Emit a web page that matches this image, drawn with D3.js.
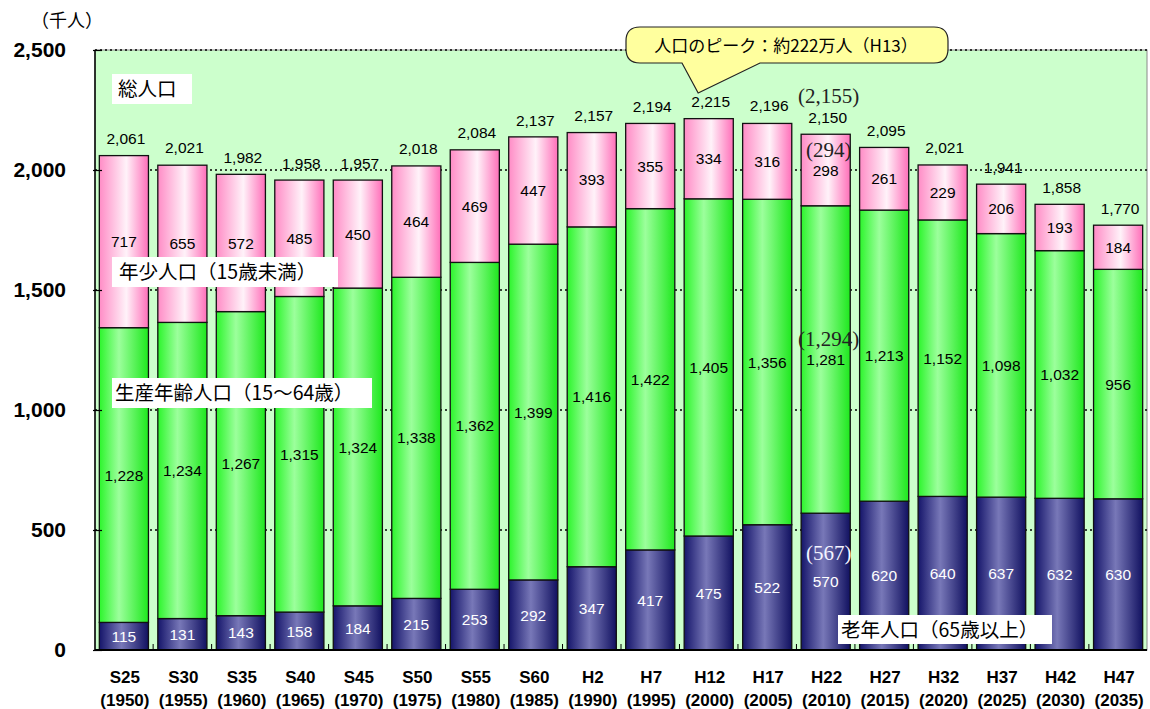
<!DOCTYPE html>
<html>
<head>
<meta charset="utf-8">
<title></title>
<script src="https://d3js.org/d3.v7.min.js"></script>
<style>
  body { margin: 0; background: #ffffff; }
  svg text { font-family: 'Liberation Sans', Arial, sans-serif; }
  svg .jp { font-family: 'Noto Sans CJK JP', sans-serif; }
</style>
</head>
<body>
<svg id="chart" width="1150" height="709"></svg>
<script>
  var eras = ['S25','S30','S35','S40','S45','S50','S55','S60','H2','H7','H12','H17','H22','H27','H32','H37','H42','H47'];
  var years = [1950,1955,1960,1965,1970,1975,1980,1985,1990,1995,2000,2005,2010,2015,2020,2025,2030,2035];
  var elderly = [115,131,143,158,184,215,253,292,347,417,475,522,570,620,640,637,632,630];
  var working = [1228,1234,1267,1315,1324,1338,1362,1399,1416,1422,1405,1356,1281,1213,1152,1098,1032,956];
  var young = [717,655,572,485,450,464,469,447,393,355,334,316,298,261,229,206,193,184];
  var totals = [2061,2021,1982,1958,1957,2018,2084,2137,2157,2194,2215,2196,2150,2095,2021,1941,1858,1770];
  var yTicks = [0,500,1000,1500,2000,2500];

  // figures shown in brackets for H22
  var revisedEra = 'H22';
  var revisedTotal = 2155;
  var revisedYoung = 294;
  var revisedWorking = 1294;
  var revisedElderly = 567;

  var plotL = 95, plotR = 1147, plotT = 50, plotB = 650;
  var svg = d3.select('#chart');
  var fmt = d3.format(',');

  var x = d3.scaleBand().domain(eras).range([plotL, plotR]).paddingInner(0.16).paddingOuter(0.074);
  var y = d3.scaleLinear().domain([0, 2500]).range([plotB, plotT]);

  // gradients
  var defs = svg.append('defs');
  function grad(id, stops) {
    var g = defs.append('linearGradient').attr('id', id).attr('x1', 0).attr('x2', 1).attr('y1', 0).attr('y2', 0);
    stops.forEach(function(s){ g.append('stop').attr('offset', s[0]).attr('stop-color', s[1]); });
  }
  grad('gYoung', [[0,'#ff8cc6'],[0.55,'#fff2f9'],[1,'#ff6fb9']]);
  grad('gWorking', [[0,'#2cf52c'],[0.4,'#9cff9c'],[1,'#1ee81e']]);
  grad('gElderly', [[0,'#15156a'],[0.45,'#7878b8'],[1,'#111160']]);

  // plot background
  svg.append('rect')
    .attr('x', plotL).attr('y', plotT)
    .attr('width', plotR - plotL).attr('height', plotB - plotT)
    .attr('fill', '#ccffcc').attr('stroke', '#8a8a8a').attr('stroke-width', 1);

  var rows = eras.map(function(e, i){
    return {era: e, elderly: elderly[i], working: working[i], young: young[i], total: totals[i]};
  });

  // total labels (under the gridlines, like the original)
  svg.append('g').selectAll('text')
    .data(rows).enter().append('text')
      .attr('x', function(d){ return x(d.era) + x.bandwidth()/2 + 2; })
      .attr('y', function(d){ return y(d.total) - 11.5; })
      .attr('text-anchor', 'middle')
      .attr('font-size', 15.5)
      .text(function(d){ return fmt(d.total); });

  // dotted gridlines
  svg.append('g').selectAll('line')
    .data(yTicks.filter(function(t){ return t > 0; })).enter().append('line')
      .attr('x1', plotL).attr('x2', plotR)
      .attr('y1', function(d){ return y(d); }).attr('y2', function(d){ return y(d); })
      .attr('stroke', '#000').attr('stroke-width', 1.5).attr('stroke-dasharray', '2,3');

  // stacked bars
  var keys = ['elderly','working','young'];
  var fills = {elderly: 'url(#gElderly)', working: 'url(#gWorking)', young: 'url(#gYoung)'};
  var labelColor = {elderly: '#ffffff', working: '#000000', young: '#000000'};
  var series = d3.stack().keys(keys)(rows);

  var layers = svg.append('g').selectAll('g')
    .data(series).enter().append('g');

  layers.selectAll('rect')
    .data(function(s){ return s.map(function(p){ p.key = s.key; return p; }); })
    .enter().append('rect')
      .attr('x', function(d){ return x(d.data.era); })
      .attr('y', function(d){ return y(d[1]); })
      .attr('width', x.bandwidth())
      .attr('height', function(d){ return y(d[0]) - y(d[1]); })
      .attr('fill', function(d){ return fills[d.key]; })
      .attr('stroke', '#111').attr('stroke-width', 1.3);

  layers.selectAll('text')
    .data(function(s){ return s; })
    .enter().append('text')
      .attr('x', function(d){ return x(d.data.era) + x.bandwidth()/2; })
      .attr('y', function(d){ return (y(d[0]) + y(d[1]))/2; })
      .attr('dy', '0.36em')
      .attr('text-anchor', 'middle')
      .attr('font-size', 15.5)
      .attr('fill', function(d){ return labelColor[d.key]; })
      .text(function(d){ return fmt(d.data[d.key]); });

  // bracketed figures for H22
  var ri = eras.indexOf(revisedEra);
  var rx = x(revisedEra) + x.bandwidth()/2 + 3;
  var bracket = [
    {v: revisedTotal, y: y(totals[ri]) - 38, c: '#222'},
    {v: revisedYoung, y: (y(totals[ri]) + y(elderly[ri] + working[ri]))/2 - 20, c: '#222'},
    {v: revisedWorking, y: (y(elderly[ri] + working[ri]) + y(elderly[ri]))/2 - 21, c: '#222'},
    {v: revisedElderly, y: (y(elderly[ri]) + y(0))/2 - 29, c: '#f4f4ff'}
  ];
  svg.append('g').selectAll('text')
    .data(bracket).enter().append('text')
      .attr('x', rx)
      .attr('y', function(d){ return d.y; })
      .attr('dy', '0.35em')
      .attr('text-anchor', 'middle')
      .attr('font-size', 21)
      .attr('fill', function(d){ return d.c; })
      .style('font-family', "'Liberation Serif', 'DejaVu Serif', serif")
      .text(function(d){ return '(' + fmt(d.v) + ')'; });

  // axes
  var yAxis = svg.append('g').attr('transform', 'translate(' + plotL + ',0)')
    .call(d3.axisLeft(y).tickValues(yTicks).tickSizeInner(-7).tickSizeOuter(0).tickPadding(29).tickFormat(fmt));
  yAxis.select('.domain').remove();
  yAxis.selectAll('.tick line').attr('stroke', '#000').attr('stroke-width', 1.2).attr('x1', -2);
  yAxis.selectAll('.tick text')
    .attr('font-size', 21).attr('font-weight', 'bold').attr('fill', '#000')
    .style('font-family', "'Liberation Sans', Arial, sans-serif");

  svg.append('line').attr('x1', plotL).attr('x2', plotL).attr('y1', plotT).attr('y2', plotB)
    .attr('stroke', '#000').attr('stroke-width', 1.5);
  svg.append('line').attr('x1', plotL).attr('x2', plotR).attr('y1', plotB).attr('y2', plotB)
    .attr('stroke', '#000').attr('stroke-width', 2);

  // small ticks between bars
  var gaps = eras.slice(1).map(function(e){ return x(e) - (x.step() - x.bandwidth())/2; });
  svg.append('g').selectAll('line')
    .data(gaps).enter().append('line')
      .attr('x1', function(d){ return d; }).attr('x2', function(d){ return d; })
      .attr('y1', plotB).attr('y2', plotB - 6)
      .attr('stroke', '#000').attr('stroke-width', 1);

  // category labels
  var xl = svg.append('g').selectAll('text')
    .data(eras).enter().append('text')
      .attr('text-anchor', 'middle')
      .attr('font-weight', 'bold')
      .attr('font-size', 17);
  xl.append('tspan')
    .attr('x', function(d){ return x(d) + x.bandwidth()/2 + 1; })
    .attr('y', 683)
    .text(function(d){ return d; });
  xl.append('tspan')
    .attr('x', function(d){ return x(d) + x.bandwidth()/2 + 1; })
    .attr('y', 706)
    .text(function(d, i){ return '(' + years[i] + ')'; });

  // unit
  svg.append('text').attr('class', 'jp')
    .attr('x', 31).attr('y', 27).attr('font-size', 18)
    .text('（千人）');

  // legend boxes
  var notes = [
    {t: '総人口', x: 112, y: 74, w: 80, h: 30, tx: 118},
    {t: '年少人口（15歳未満）', x: 112, y: 257, w: 226, h: 30, tx: 119},
    {t: '生産年齢人口（15～64歳）', x: 112, y: 378, w: 260, h: 30, tx: 115},
    {t: '老年人口（65歳以上）', x: 838, y: 615, w: 214, h: 29, tx: 841}
  ];
  var ng = svg.append('g').selectAll('g').data(notes).enter().append('g');
  ng.append('rect')
    .attr('x', function(d){ return d.x; }).attr('y', function(d){ return d.y; })
    .attr('width', function(d){ return d.w; }).attr('height', function(d){ return d.h; })
    .attr('fill', '#ffffff');
  ng.append('text').attr('class', 'jp')
    .attr('x', function(d){ return d.tx; })
    .attr('y', function(d){ return d.y + d.h/2; })
    .attr('dy', '0.36em')
    .attr('font-size', 19.5)
    .attr('fill', '#000')
    .text(function(d){ return d.t; });

  // peak callout
  var cx0 = 626, cy0 = 27, cx1 = 948, cy1 = 63, r = 14;
  var tipX = x('H12') + 14, tipY = 93;
  var callout = 'M' + (cx0 + r) + ',' + cy0 +
    ' H' + (cx1 - r) + ' Q' + cx1 + ',' + cy0 + ' ' + cx1 + ',' + (cy0 + r) +
    ' V' + (cy1 - r) + ' Q' + cx1 + ',' + cy1 + ' ' + (cx1 - r) + ',' + cy1 +
    ' H760 L' + tipX + ',' + tipY + ' L682,' + cy1 +
    ' H' + (cx0 + r) + ' Q' + cx0 + ',' + cy1 + ' ' + cx0 + ',' + (cy1 - r) +
    ' V' + (cy0 + r) + ' Q' + cx0 + ',' + cy0 + ' ' + (cx0 + r) + ',' + cy0 + ' Z';
  svg.append('path').attr('d', callout)
    .attr('fill', '#ffff9e').attr('stroke', '#222').attr('stroke-width', 1.2);
  svg.append('text').attr('class', 'jp')
    .attr('x', 786).attr('y', 46).attr('dy', '0.36em')
    .attr('text-anchor', 'middle').attr('font-size', 17)
    .text('人口のピーク：約222万人（H13）');
</script>
</body>
</html>
